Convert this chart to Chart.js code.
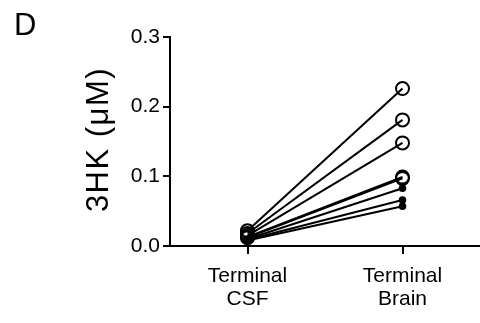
<!DOCTYPE html>
<html>
<head>
<meta charset="utf-8">
<script src="https://cdn.jsdelivr.net/npm/chart.js@4.4.1/dist/chart.umd.min.js"></script>
<style>
html,body{margin:0;padding:0;background:#fff;}
#wrap{width:480px;height:323px;position:relative;}
</style>
</head>
<body>
<div id="wrap"><canvas id="c" width="480" height="323"></canvas></div>
<script>
const categories = [["Terminal", "CSF"], ["Terminal", "Brain"]];
const csfValues   = [0.022, 0.018, 0.015, 0.013, 0.012, 0.010, 0.009, 0.008];
const brainValues = [0.226, 0.181, 0.148, 0.099, 0.097, 0.083, 0.066, 0.057];
const openMarker  = [true, true, true, true, true, false, false, false];
const yTicks = [0.0, 0.1, 0.2, 0.3];
const yTitle = "3HK (\u03bcM)";
const panelLabel = "D";

const FONT = "'Liberation Sans', Arial, sans-serif";

const datasets = csfValues.map((v, i) => ({
  type: 'line',
  data: [v, brainValues[i]],
  borderColor: '#000',
  borderWidth: 2,
  pointRadius: openMarker[i] ? 6.5 : 3.8,
  pointHoverRadius: openMarker[i] ? 6.5 : 3.8,
  pointBorderWidth: openMarker[i] ? 2 : 0,
  pointBorderColor: '#000',
  pointBackgroundColor: openMarker[i] ? 'rgba(0,0,0,0)' : '#000',
  pointStyle: 'circle',
  fill: false,
  clip: false,
  order: openMarker[i] ? 0 : 1
}));

const textPlugin = {
  id: 'texts',
  afterDraw(chart) {
    const ctx = chart.ctx;
    const ca = chart.chartArea;
    ctx.save();
    ctx.fillStyle = '#000';
    ctx.font = '31px ' + FONT;
    ctx.textBaseline = 'top';
    ctx.textAlign = 'left';
    ctx.fillText(panelLabel, 14, 11);
    ctx.restore();

    ctx.save();
    ctx.fillStyle = '#000';
    ctx.font = '31px ' + FONT;
    if ('letterSpacing' in ctx) ctx.letterSpacing = '1.5px';
    ctx.textBaseline = 'middle';
    ctx.textAlign = 'center';
    ctx.translate(99, (ca.top + ca.bottom) / 2 - 2);
    ctx.rotate(-Math.PI / 2);
    ctx.fillText(yTitle, 0, 0);
    ctx.restore();
  }
};

new Chart(document.getElementById('c'), {
  data: { labels: categories, datasets },
  options: {
    responsive: false,
    animation: false,
    events: [],
    layout: { autoPadding: false, padding: { top: 37, right: 0, bottom: 0, left: 0 } },
    plugins: { legend: { display: false }, tooltip: { enabled: false } },
    scales: {
      x: {
        type: 'category',
        offset: true,
        grid: { drawOnChartArea: false, drawTicks: true, tickLength: 8, color: '#000', lineWidth: 2 },
        border: { display: true, color: '#000', width: 2 },
        ticks: { color: '#000', font: { family: FONT, size: 21, lineHeight: 1.1 }, padding: 11, maxRotation: 0, autoSkip: false },
        afterFit: s => { s.height = 77; s.paddingLeft = 0; s.paddingRight = 0; }
      },
      y: {
        min: 0, max: 0.3,
        afterBuildTicks: s => { s.ticks = yTicks.map(v => ({ value: v })); },
        grid: { drawOnChartArea: false, drawTicks: true, tickLength: 7, color: '#000', lineWidth: 2 },
        border: { display: true, color: '#000', width: 2 },
        ticks: { color: '#000', font: { family: FONT, size: 21 }, padding: 3, callback: v => Number(v).toFixed(1) },
        title: { display: false },
        afterFit: s => { s.width = 170; }
      }
    }
  },
  plugins: [textPlugin]
});
</script>
</body>
</html>
